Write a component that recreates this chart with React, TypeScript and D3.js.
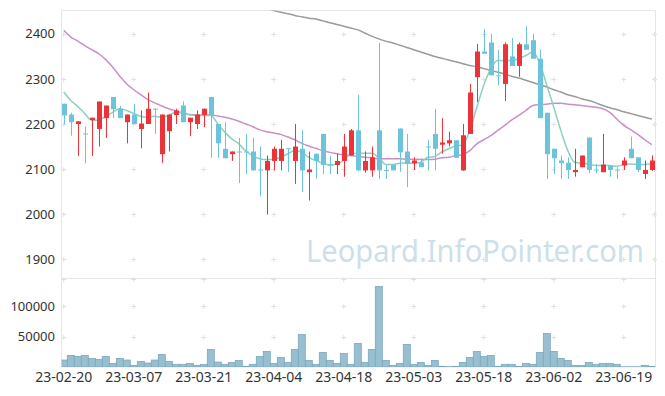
import * as d3 from "d3";
import React from "react";

// trading days (KRX) 2023-02-20 .. 2023-06-23
const dates = [
  "2023-02-20", "2023-02-21", "2023-02-22", "2023-02-23", "2023-02-24", "2023-02-27", "2023-02-28",
  "2023-03-02", "2023-03-03", "2023-03-06", "2023-03-07", "2023-03-08", "2023-03-09", "2023-03-10",
  "2023-03-13", "2023-03-14", "2023-03-15", "2023-03-16", "2023-03-17", "2023-03-20", "2023-03-21",
  "2023-03-22", "2023-03-23", "2023-03-24", "2023-03-27", "2023-03-28", "2023-03-29", "2023-03-30",
  "2023-03-31", "2023-04-03", "2023-04-04", "2023-04-05", "2023-04-06", "2023-04-07", "2023-04-10",
  "2023-04-11", "2023-04-12", "2023-04-13", "2023-04-14", "2023-04-17", "2023-04-18", "2023-04-19",
  "2023-04-20", "2023-04-21", "2023-04-24", "2023-04-25", "2023-04-26", "2023-04-27", "2023-04-28",
  "2023-05-02", "2023-05-03", "2023-05-04", "2023-05-08", "2023-05-09", "2023-05-10", "2023-05-11",
  "2023-05-12", "2023-05-15", "2023-05-16", "2023-05-17", "2023-05-18", "2023-05-19", "2023-05-22",
  "2023-05-23", "2023-05-24", "2023-05-25", "2023-05-26", "2023-05-30", "2023-05-31", "2023-06-01",
  "2023-06-02", "2023-06-05", "2023-06-07", "2023-06-08", "2023-06-09", "2023-06-12", "2023-06-13",
  "2023-06-14", "2023-06-15", "2023-06-16", "2023-06-19", "2023-06-20", "2023-06-21", "2023-06-22",
  "2023-06-23",
];

const opens = [
  2245, 2221, 2200, 2179, 2209, 2189, 2213, 2260, 2234, 2204, 2221, 2189, 2200, 2234, 2133, 2184, 2220,
  2241, 2204, 2200, 2220, 2260, 2200, 2145, 2133, 2139, 2139, 2139, 2099, 2097, 2118, 2118, 2146, 2118,
  2145, 2093, 2134, 2178, 2110, 2109, 2118, 2130, 2186, 2097, 2097, 2186, 2098, 2110, 2190, 2139, 2113,
  2115, 2150, 2178, 2154, 2157, 2164, 2097, 2178, 2304, 2361, 2381, 2308, 2289, 2350, 2329, 2377, 2386,
  2345, 2225, 2145, 2119, 2114, 2093, 2104, 2170, 2099, 2093, 2108, 2099, 2108, 2145, 2126, 2089, 2098,
];
const highs = [
  2245, 2225, 2206, 2195, 2214, 2250, 2241, 2260, 2240, 2221, 2245, 2230, 2270, 2234, 2221, 2221, 2234,
  2250, 2214, 2230, 2234, 2260, 2200, 2204, 2139, 2169, 2178, 2169, 2150, 2130, 2150, 2165, 2146, 2200,
  2186, 2139, 2134, 2178, 2130, 2134, 2178, 2189, 2265, 2139, 2150, 2380, 2110, 2110, 2190, 2178, 2126,
  2124, 2165, 2234, 2213, 2183, 2164, 2200, 2289, 2378, 2411, 2400, 2365, 2381, 2391, 2381, 2417, 2400,
  2365, 2225, 2145, 2130, 2126, 2145, 2130, 2170, 2111, 2178, 2108, 2104, 2126, 2172, 2126, 2119, 2130,
];
const lows = [
  2199, 2174, 2129, 2113, 2129, 2150, 2169, 2213, 2213, 2157, 2200, 2146, 2200, 2178, 2114, 2139, 2200,
  2204, 2173, 2189, 2193, 2125, 2125, 2124, 2118, 2069, 2089, 2097, 2039, 1999, 2097, 2097, 2093, 2067,
  2049, 2030, 2079, 2089, 2089, 2089, 2083, 2130, 2095, 2092, 2083, 2078, 2078, 2097, 2094, 2060, 2098,
  2104, 2097, 2097, 2134, 2150, 2125, 2096, 2178, 2249, 2356, 2308, 2286, 2251, 2329, 2305, 2365, 2345,
  2213, 2078, 2089, 2078, 2078, 2083, 2104, 2091, 2091, 2093, 2083, 2078, 2098, 2124, 2093, 2078, 2096,
];
const closes = [
  2219, 2204, 2206, 2179, 2214, 2250, 2241, 2233, 2213, 2221, 2200, 2201, 2234, 2233, 2221, 2221, 2230,
  2204, 2214, 2221, 2234, 2220, 2157, 2124, 2139, 2138, 2138, 2097, 2098, 2118, 2145, 2145, 2145, 2150,
  2097, 2099, 2118, 2109, 2109, 2118, 2150, 2186, 2097, 2118, 2126, 2097, 2097, 2097, 2137, 2111, 2119,
  2104, 2149, 2145, 2159, 2164, 2125, 2175, 2270, 2361, 2356, 2308, 2307, 2377, 2329, 2377, 2365, 2345,
  2213, 2133, 2124, 2113, 2098, 2098, 2130, 2098, 2098, 2110, 2098, 2098, 2119, 2124, 2098, 2098, 2119,
];
const volumes = [
  11500, 19100, 17500, 19100, 14200, 12600, 17500, 6000, 14200, 11500, 2700, 9300, 6600, 11500, 20800,
  9300, 4400, 4400, 6000, 2700, 4400, 29000, 8200, 4400, 7600, 10900, 1100, 4400, 17500, 25700, 6000,
  15800, 7600, 29000, 53500, 10900, 4400, 24000, 10900, 6000, 22400, 4400, 38800, 7600, 29000, 132800,
  10900, 2700, 6000, 37200, 4400, 7600, 2700, 10900, 1100, 500, 1100, 7600, 15800, 25700, 17500, 19100,
  1100, 4400, 4400, 1100, 6000, 4400, 24000, 55200, 25700, 14200, 10900, 2700, 2700, 7600, 4400, 6000,
  6000, 4400, 300, 300, 300, 2700, 1100,
];

// moving averages
const ma5 = [
  2271, 2252, 2239, 2223, 2208, 2209, 2217, 2226, 2234, 2230, 2223, 2217, 2215, 2217, 2215, 2219, 2226,
  2226, 2220, 2219, 2219, 2219, 2200, 2182, 2167, 2156, 2140, 2129, 2123, 2121, 2122, 2126, 2134, 2141,
  2137, 2126, 2119, 2113, 2109, 2111, 2120, 2134, 2135, 2135, 2135, 2125, 2110, 2110, 2113, 2114, 2113,
  2115, 2126, 2128, 2138, 2145, 2151, 2154, 2186, 2237, 2286, 2323, 2341, 2341, 2341, 2345, 2352, 2360,
  2334, 2286, 2237, 2186, 2141, 2115, 2113, 2111, 2108, 2108, 2108, 2106, 2110, 2111, 2110, 2110, 2111,
];
const ma20 = [
  2408, 2393, 2384, 2374, 2365, 2356, 2343, 2326, 2306, 2289, 2276, 2265, 2254, 2247, 2240, 2234, 2229,
  2224, 2221, 2220, 2220, 2220, 2218, 2215, 2211, 2206, 2200, 2194, 2187, 2183, 2180, 2177, 2171, 2165,
  2157, 2151, 2146, 2141, 2137, 2134, 2131, 2130, 2128, 2126, 2125, 2123, 2123, 2123, 2123, 2122, 2122,
  2121, 2121, 2122, 2125, 2126, 2130, 2132, 2141, 2156, 2165, 2174, 2186, 2197, 2209, 2219, 2230, 2241,
  2243, 2244, 2246, 2246, 2244, 2243, 2241, 2239, 2237, 2234, 2226, 2211, 2197, 2187, 2177, 2165, 2154,
];
const ma60 = [
  null, null, null, null, null, null, null, null, null, null, null, null, null, null, null, null, null,
  null, null, null, null, null, null, null, null, null, 2468, 2464, 2460, 2456, 2452, 2448, 2445, 2441,
  2438, 2435, 2433, 2429, 2425, 2421, 2417, 2413, 2409, 2402, 2395, 2389, 2384, 2380, 2375, 2370, 2365,
  2360, 2355, 2350, 2346, 2342, 2338, 2334, 2330, 2327, 2323, 2319, 2315, 2311, 2306, 2302, 2297, 2292,
  2287, 2282, 2276, 2271, 2265, 2261, 2256, 2252, 2247, 2241, 2236, 2232, 2227, 2223, 2219, 2215, 2211,
];

const priceTicks = [1900, 2000, 2100, 2200, 2300, 2400];
const volumeTicks = [50000, 100000];

const W = 665;
const H = 396;
const left = 61.5;
const right = 655.5;
const top = 10.5;
const mid = 278.5;
const bottom = 367;

const UP = "#ee3338";
const DOWN = "#6cc4da";
const font = "'Noto Sans', sans-serif";

export default function App() {
  const x = d3.scaleBand<string>().domain(dates).range([60.3, 655.3]).padding(0);
  const cx = (i: number) => (x(dates[i]) as number) + x.bandwidth() / 2;
  const y = d3.scaleLinear().domain([1857, 2452]).range([mid, top]);
  const yv = d3.scaleLinear().domain([0, 146000]).range([bottom, mid]);

  const labelIdx = d3.range(0, dates.length, 10);
  const crossX = labelIdx.map(cx);

  const line = (vals: (number | null)[]) =>
    d3
      .line<number | null>()
      .defined((d) => d != null)
      .x((_, i) => cx(i))
      .y((d) => y(d as number))
      .curve(d3.curveMonotoneX)(vals) || "";

  const cross = (px: number, py: number, k: string) => (
    <path key={k} d={`M${px - 2.5},${py}H${px + 2.5}M${px},${py - 2.5}V${py + 2.5}`} stroke="#e0e0e0" strokeWidth={1} />
  );

  return (
    <svg width={W} height={H} style={{ position: "absolute", left: 0, top: 0, background: "#fff" }}>
      <defs>
        <clipPath id="main">
          <rect x={left} y={top} width={right - left} height={mid - top} />
        </clipPath>
        <clipPath id="vol">
          <rect x={left} y={mid} width={right - left} height={bottom - mid} />
        </clipPath>
      </defs>

      {/* grid crosses */}
      {priceTicks.map((t) => crossX.map((px, j) => cross(px, Math.round(y(t)) + 0.5, `p${t}-${j}`)))}
      {[...volumeTicks, 146000].map((t) => crossX.map((px, j) => cross(px, Math.round(yv(t)) + 0.5, `v${t}-${j}`)))}
      {priceTicks.map((t) => cross(right - 1, Math.round(y(t)) + 0.5, `r${t}`))}

      {/* frame */}
      <path d={`M${left},${top}H${right}V${bottom}H${left}Z`} fill="none" stroke="#e6e6e6" />
      <path d={`M${left},${mid}H${right}`} stroke="#e6e6e6" />

      <text x={306} y={262} fontFamily={font} fontSize={31} fill="#cddfe9" textLength={338} lengthAdjust="spacingAndGlyphs">
        Leopard.InfoPointer.com
      </text>

      {/* moving averages */}
      <g clipPath="url(#main)" fill="none" strokeWidth={1.5}>
        <path d={line(ma60)} stroke="#9a9a9a" />
        <path d={line(ma20)} stroke="#c98fc6" />
        <path d={line(ma5)} stroke="#8fcfc3" />
      </g>

      {/* candles */}
      <g clipPath="url(#main)">
        {dates.map((d, i) => {
          const o = opens[i];
          const c = closes[i];
          const col = c > o ? UP : DOWN;
          const px = Math.round(cx(i)) + 0.5;
          const yt = y(Math.max(o, c));
          const yb = y(Math.min(o, c));
          return (
            <g key={d}>
              <line x1={px} x2={px} y1={y(highs[i])} y2={y(lows[i])} stroke={col} strokeWidth={1} />
              <rect x={px - 2.5} y={yt} width={5} height={Math.max(1, yb - yt)} fill={col} />
            </g>
          );
        })}
      </g>

      {/* volume */}
      <g clipPath="url(#vol)">
        {dates.map((d, i) => (
          <rect
            key={d}
            x={x(d)}
            y={yv(volumes[i])}
            width={x.bandwidth()}
            height={bottom - yv(volumes[i])}
            fill="#98bfd0"
            stroke="#7aa9bf"
            strokeWidth={0.8}
          />
        ))}
      </g>

      {/* axis labels */}
      <g fontFamily={font} fontSize={13} fill="#333" textAnchor="end">
        {priceTicks.map((t) => (
          <text key={t} x={55} y={y(t)} dy="0.35em">
            {t}
          </text>
        ))}
        {volumeTicks.map((t) => (
          <text key={t} x={55} y={yv(t)} dy="0.35em">
            {t}
          </text>
        ))}
      </g>
      <g fontFamily={font} fontSize={14} fill="#333" textAnchor="middle">
        {labelIdx.map((i) => (
          <text key={i} x={cx(i)} y={382}>
            {dates[i].slice(2)}
          </text>
        ))}
      </g>
    </svg>
  );
}
